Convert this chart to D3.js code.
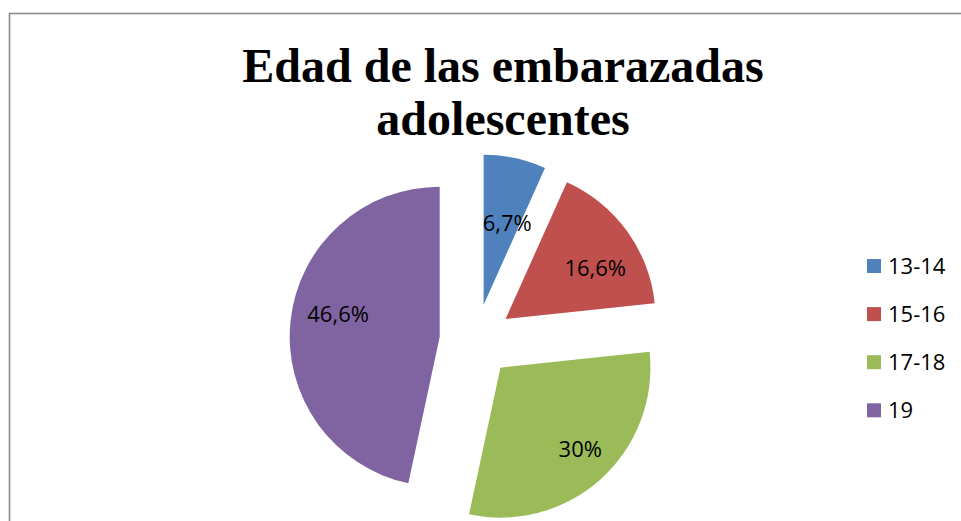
<!DOCTYPE html>
<html>
<head>
<meta charset="utf-8">
<script src="https://cdn.jsdelivr.net/npm/d3@7"></script>
<style>
  html, body { margin: 0; padding: 0; background: #ffffff; }
  svg { display: block; }
</style>
</head>
<body>
<svg id="chart" width="961" height="521"></svg>
<script>
// Age groups of pregnant adolescents and their share (%)
const categories = ["13-14", "15-16", "17-18", "19"];
const values = [6.7, 16.6, 30, 46.6];
const valueLabels = ["6,7%", "16,6%", "30%", "46,6%"];
const colors = ["#4F81BD", "#C0504D", "#9BBB59", "#8064A2"];
const titleLines = ["Edad de las embarazadas", "adolescentes"];

// Layout
const W = 961, H = 521;
const cx = 476, cy = 340.5;
const radius = 150;
const explode = 36.5;
// label placement per slice: distance from the slice apex and an angular nudge (degrees)
const labelDist = [85, 103, 114, 104];
const labelTurn = [4, 6.5, -2.5, 6.3];

const svg = d3.select("#chart");

// chart-area frame (only top and left edges fall inside the view)
svg.append("rect")
  .attr("x", 9.5).attr("y", 13.5)
  .attr("width", W + 20).attr("height", H + 20)
  .attr("fill", "none")
  .attr("stroke", "#8a8a8a")
  .attr("stroke-width", 1.6);

// title
const title = svg.append("text")
  .attr("text-anchor", "middle")
  .attr("font-family", "'Liberation Serif', 'Times New Roman', serif")
  .attr("font-weight", "bold")
  .attr("font-size", 48)
  .attr("fill", "#000");
titleLines.forEach((line, i) => {
  title.append("tspan")
    .attr("x", 503)
    .attr("y", 82 + i * 53)
    .text(line);
});

// exploded pie, starting at 12 o'clock and running clockwise
const pie = d3.pie().sort(null).value(d => d)
  .startAngle(0).endAngle(2 * Math.PI);
const arcs = pie(values);
const arc = d3.arc().innerRadius(0).outerRadius(radius);

const g = svg.append("g").attr("transform", `translate(${cx},${cy})`);

const slice = g.selectAll("g.slice")
  .data(arcs)
  .join("g")
  .attr("class", "slice")
  .attr("transform", d => {
    const mid = (d.startAngle + d.endAngle) / 2;
    return `translate(${explode * Math.sin(mid)},${-explode * Math.cos(mid)})`;
  });

slice.append("path")
  .attr("d", arc)
  .attr("fill", (d, i) => colors[i]);

slice.append("text")
  .attr("transform", (d, i) => {
    const mid = (d.startAngle + d.endAngle) / 2 + labelTurn[i] * Math.PI / 180;
    const la = d3.arc().innerRadius(labelDist[i]).outerRadius(labelDist[i]);
    const [x, y] = la.centroid({ startAngle: mid, endAngle: mid });
    return `translate(${x},${y})`;
  })
  .attr("text-anchor", "middle")
  .attr("dy", "0.36em")
  .attr("font-family", "'Open Sans', sans-serif")
  .attr("font-size", 22)
  .attr("fill", "#000")
  .text((d, i) => valueLabels[i]);

// legend
const legend = svg.append("g").attr("transform", "translate(867,266)");
const item = legend.selectAll("g")
  .data(categories)
  .join("g")
  .attr("transform", (d, i) => `translate(0,${i * 48.1})`);
item.append("rect")
  .attr("x", 0).attr("y", -7)
  .attr("width", 14).attr("height", 14)
  .attr("fill", (d, i) => colors[i]);
item.append("text")
  .attr("x", 21)
  .attr("dy", "0.36em")
  .attr("font-family", "'Open Sans', sans-serif")
  .attr("font-size", 22)
  .attr("fill", "#000")
  .text(d => d);
</script>
</body>
</html>
